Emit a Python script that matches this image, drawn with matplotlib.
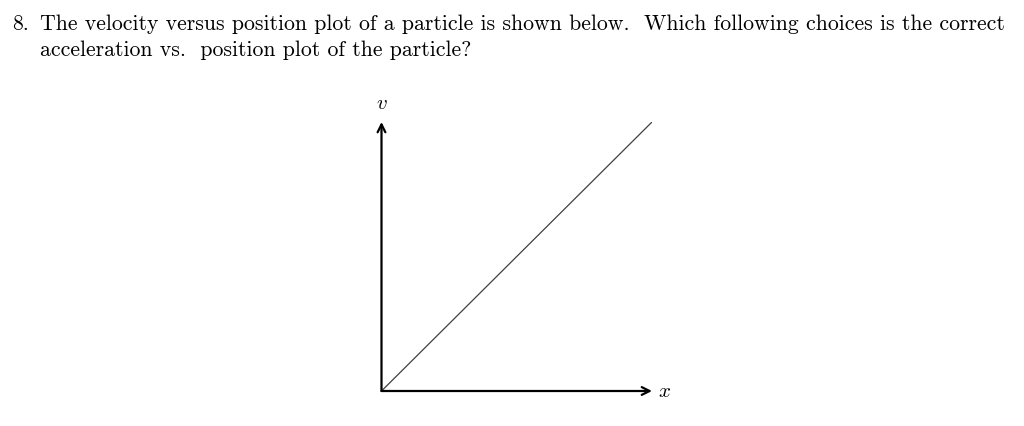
import matplotlib.pyplot as plt

# velocity vs position: straight line through origin
x_pos = [0.0, 1.0]
velocity = [0.0, 1.0]

question_num = "8."
question_line1 = "The velocity versus position plot of a particle is shown below.  Which following choices is the correct"
question_line2 = "acceleration vs.  position plot of the particle?"

plt.rcParams["mathtext.fontset"] = "cm"

fig = plt.figure(figsize=(10.24, 4.26), dpi=100)
fig.patch.set_facecolor("white")

fs = 15.7
fig.text(12 / 1024, 1 - 30 / 426, question_num, family="cmr10", fontsize=fs, va="baseline")
fig.text(40 / 1024, 1 - 30 / 426, question_line1, family="cmr10", fontsize=fs, va="baseline")
fig.text(40 / 1024, 1 - 56 / 426, question_line2, family="cmr10", fontsize=fs, va="baseline")

ax = fig.add_axes([381.5 / 1024, 35 / 426, 270.5 / 1024, 269 / 426])
ax.plot(x_pos, velocity, color="#404040", lw=0.9)
ax.set_xlim(0, 1)
ax.set_ylim(0, 1)
ax.axis("off")

arrow = dict(arrowstyle="->", lw=1.6, color="black", mutation_scale=14, shrinkA=0, shrinkB=0)
ax.annotate("", xy=(1.0, 0), xytext=(0, 0), xycoords="axes fraction", arrowprops=arrow)
ax.annotate("", xy=(0, 1.0), xytext=(0, 0), xycoords="axes fraction", arrowprops=arrow)
ax.text(1.045, 0, "$x$", transform=ax.transAxes, fontsize=15, ha="center", va="center")
ax.text(0, 1.07, "$v$", transform=ax.transAxes, fontsize=15, ha="center", va="center")

fig.savefig("out.png", dpi=100)
